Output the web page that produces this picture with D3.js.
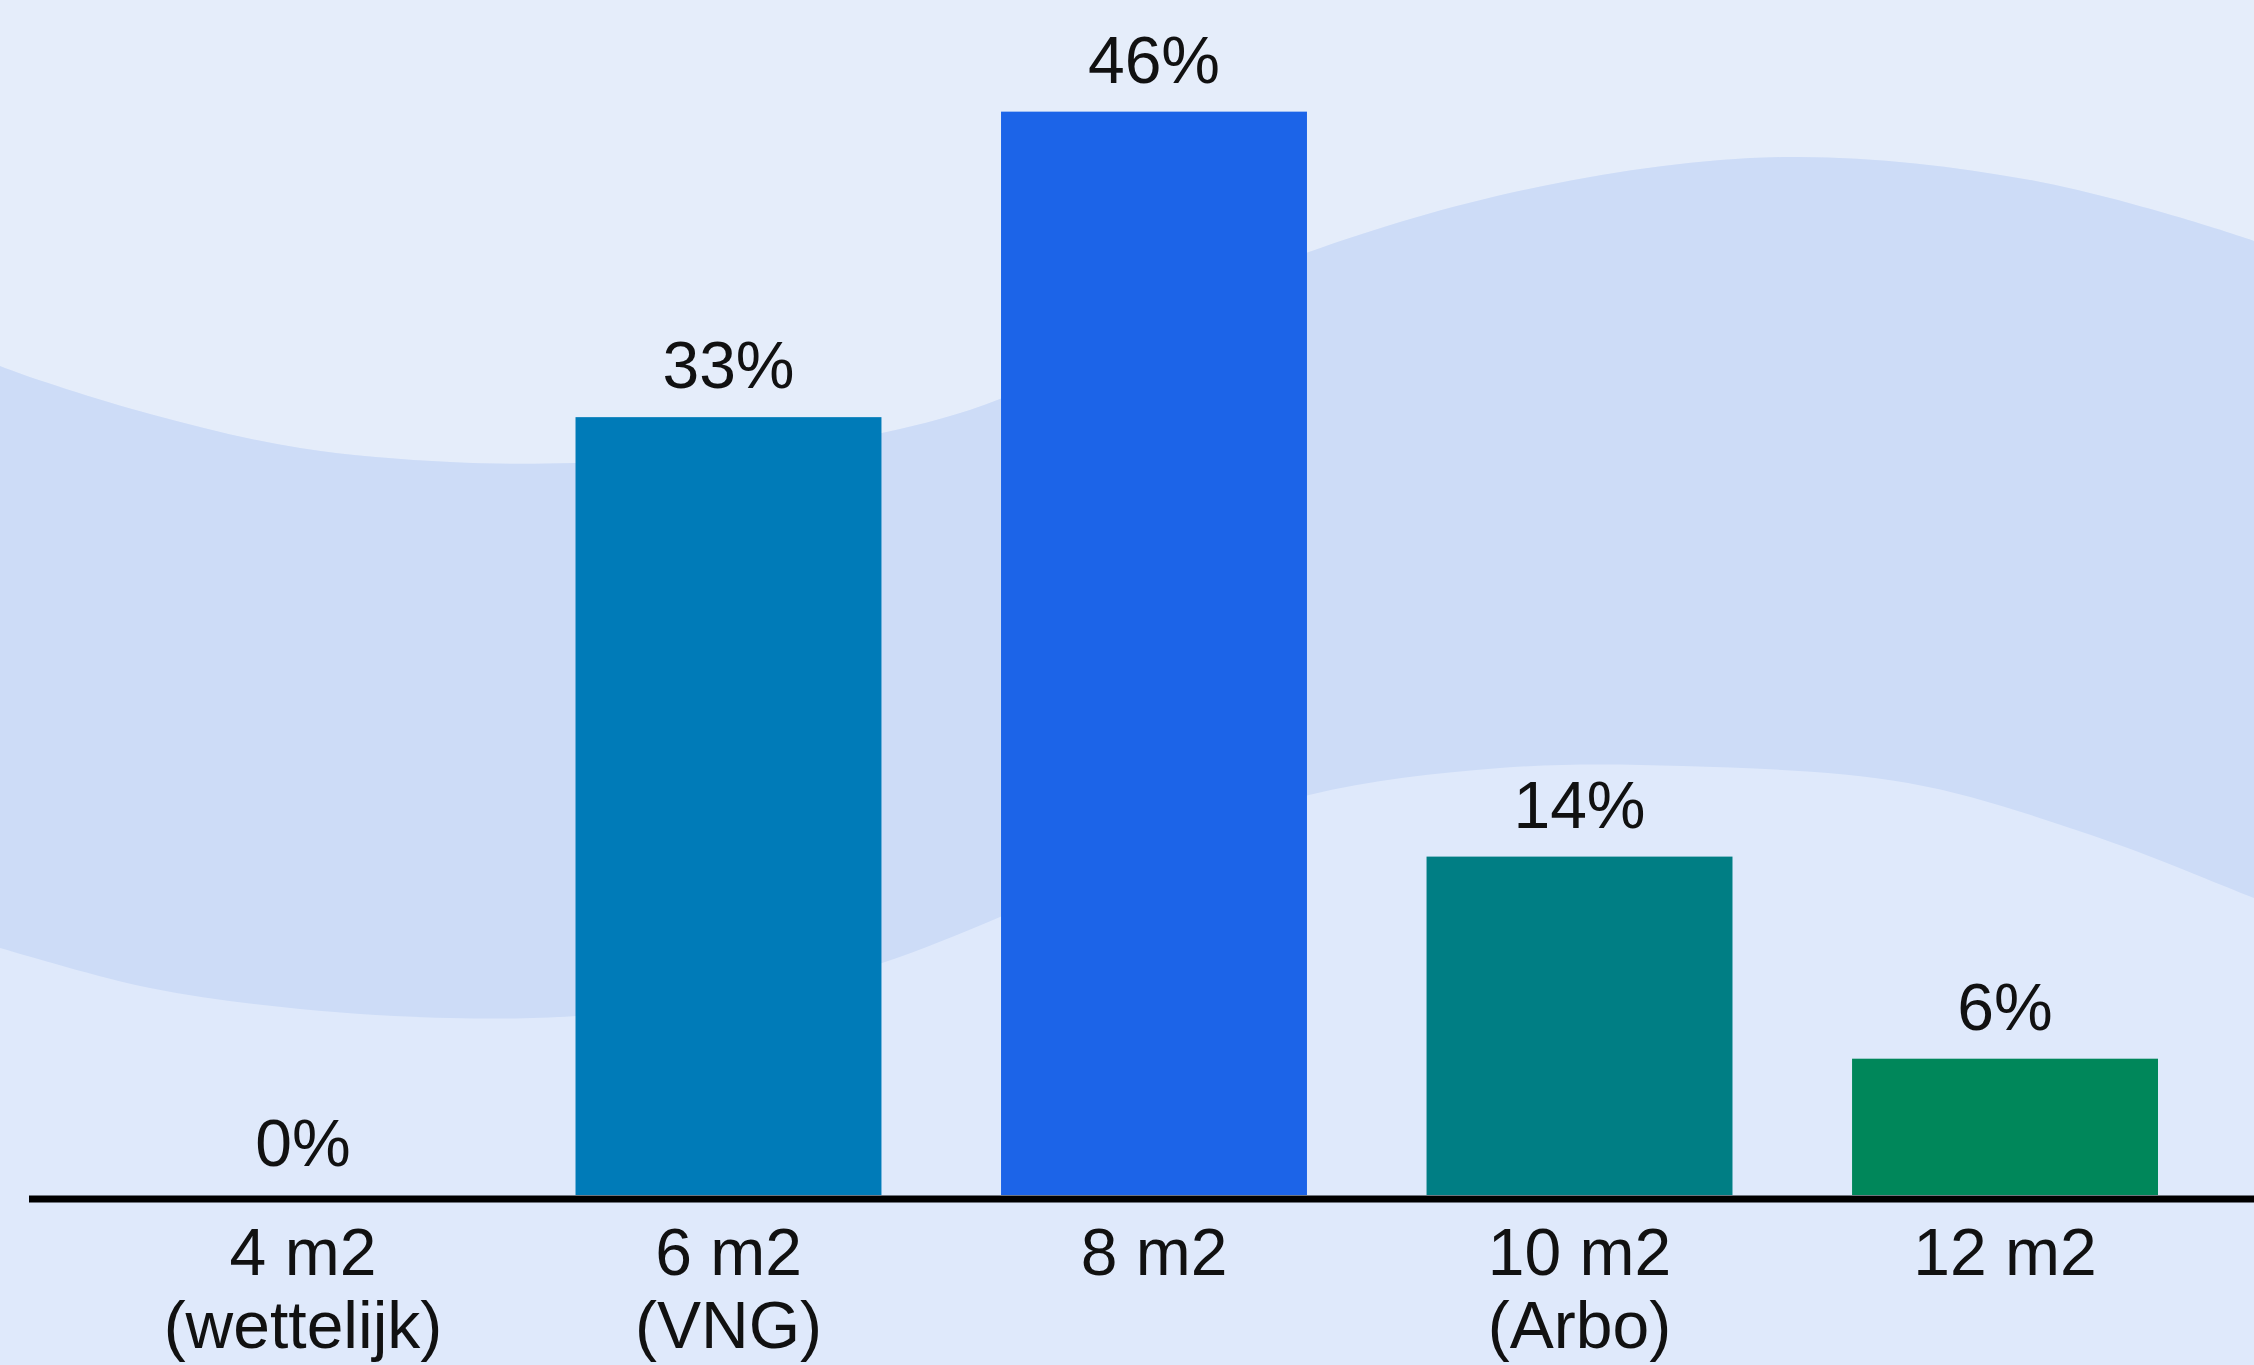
<!DOCTYPE html>
<html>
<head>
<meta charset="utf-8">
<script src="https://cdn.jsdelivr.net/npm/d3@7"></script>
<style>
  html, body { margin: 0; padding: 0; background: #e5edfa; overflow: hidden; }
  svg { display: block; }
  text { font-family: "Liberation Sans", Arial, sans-serif; }
</style>
</head>
<body>
<svg id="chart" width="2254" height="1365"></svg>
<script>
// ---- data ----
const categories = ["4 m2", "6 m2", "8 m2", "10 m2", "12 m2"];
const subLabels  = ["(wettelijk)", "(VNG)", "", "(Arbo)", ""];
const values     = [0, 33.1, 46.1, 14.4, 5.8];
const valueLabels = ["0%", "33%", "46%", "14%", "6%"];
const barColors  = ["#007bb8", "#007bb8", "#1c64e8", "#007e84", "#00875a"];

// ---- setup ----
const W = 2254, H = 1365;
const svg = d3.select("#chart");

// background decorative wave band
const bgTop = "#e5edfa", bgBand = "#cddcf7", bgBottom = "#dfe9fb";
svg.append("rect").attr("width", W).attr("height", H).attr("fill", bgBottom);

const upperWave = [[-20,356],[0,366],[150,414],[300,448],[450,462],[576,463],[760,452],[882,433],[1000,399],[1150,322],[1309,252],[1543,186],[1787,157],[2030,180],[2254,241],[2280,252]];
const lowerWave = [[-20,942],[0,948],[150,988],[300,1009],[450,1018],[576,1016],[760,995],[882,963],[1000,917],[1150,850],[1309,795],[1500,768],[1683,766],[1908,783],[2091,835],[2254,898],[2280,908]];

const lineGen = d3.line().curve(d3.curveCatmullRom.alpha(0.5));
// top region
svg.append("path")
  .attr("d", lineGen(upperWave) + `L${W+20},-10L-20,-10Z`)
  .attr("fill", bgTop);
// band
const bandPath = lineGen(upperWave) + "L" + lineGen(lowerWave.slice().reverse()).slice(1) + "Z";
svg.append("path").attr("d", bandPath).attr("fill", bgBand);

// ---- scales ----
const x = d3.scaleBand()
  .domain(categories)
  .range([150, 2158])
  .paddingInner(0.281)
  .paddingOuter(0);

const y = d3.scaleLinear()
  .domain([0, 50])
  .range([1195, 20]);

// ---- bars ----
const g = svg.append("g");
g.selectAll("rect.bar")
  .data(values)
  .join("rect")
  .attr("class", "bar")
  .attr("x", (d, i) => x(categories[i]))
  .attr("width", x.bandwidth())
  .attr("y", d => y(d))
  .attr("height", d => y(0) - y(d))
  .attr("fill", (d, i) => barColors[i]);

// value labels
g.selectAll("text.val")
  .data(values)
  .join("text")
  .attr("class", "val")
  .attr("x", (d, i) => x(categories[i]) + x.bandwidth() / 2)
  .attr("y", d => y(d) - 29)
  .attr("text-anchor", "middle")
  .attr("font-size", 66)
  .attr("fill", "#111")
  .text((d, i) => valueLabels[i]);

// ---- x axis ----
const axis = d3.axisBottom(x).tickSize(0).tickPadding(0).tickFormat(() => "");
const axG = svg.append("g").attr("transform", `translate(0, ${y(0)})`).call(axis);
axG.select(".domain").remove();

axG.selectAll(".tick text").remove();
axG.selectAll(".tick").each(function(d, i) {
  const t = d3.select(this).append("text")
    .attr("text-anchor", "middle")
    .attr("font-size", 66)
    .attr("fill", "#111");
  t.append("tspan").attr("x", 0).attr("y", 80).text(categories[i]);
  if (subLabels[i]) t.append("tspan").attr("x", 0).attr("y", 153).text(subLabels[i]);
});

// baseline
svg.append("line")
  .attr("x1", 29).attr("x2", W)
  .attr("y1", y(0) + 4).attr("y2", y(0) + 4)
  .attr("stroke", "#000")
  .attr("stroke-width", 7);
</script>
</body>
</html>
